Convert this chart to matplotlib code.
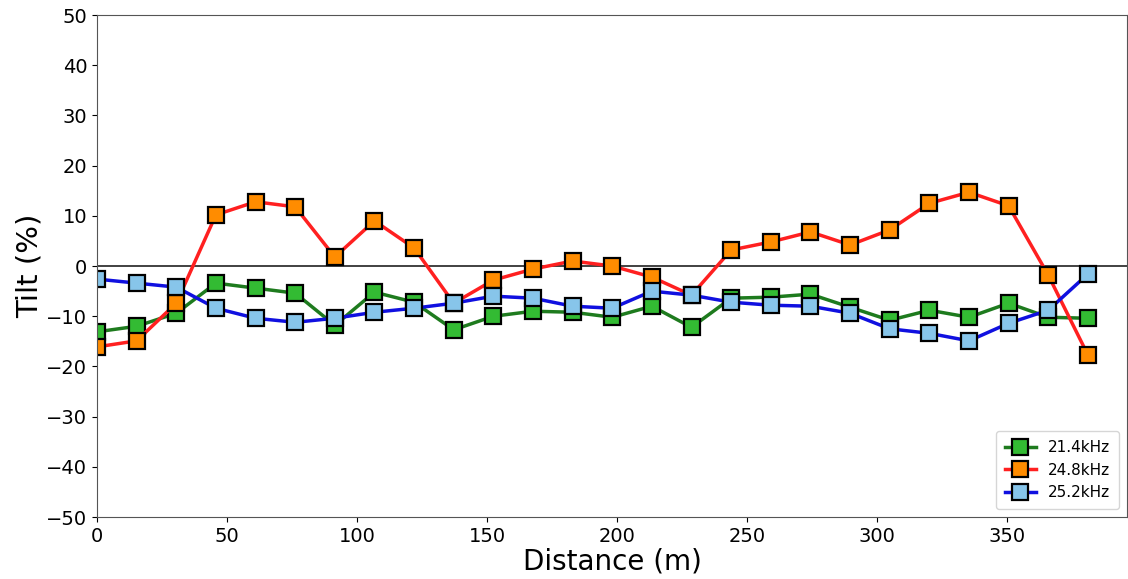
import numpy as np
import matplotlib
matplotlib.use("Agg")
import matplotlib.pyplot as plt

spacing_m = 15.24
n_points = 26
distance = [i * spacing_m for i in range(n_points)]

labels = ["21.4kHz", "24.8kHz", "25.2kHz"]

tilt_214 = [-13.1, -12.0, -9.4, -3.4, -4.4, -5.4, -11.8, -5.2, -7.2, -12.7,
            -10.0, -9.0, -9.2, -10.2, -8.0, -12.2, -6.4, -6.2, -5.6, -8.2,
            -10.8, -8.8, -10.2, -7.4, -10.2, -10.4]
tilt_248 = [-16.1, -14.9, -7.4, 10.2, 12.8, 11.8, 1.8, 9.0, 3.6, -7.4,
            -2.8, -0.6, 1.0, 0.0, -2.2, -5.8, 3.2, 4.8, 6.8, 4.2,
            7.2, 12.5, 14.7, 12.0, -1.8, -17.7]
tilt_252 = [-2.6, -3.4, -4.2, -8.4, -10.4, -11.2, -10.4, -9.2, -8.4, -7.4,
            -6.0, -6.4, -8.0, -8.4, -5.0, -5.8, -7.2, -7.8, -8.0, -9.4,
            -12.5, -13.4, -14.9, -11.4, -8.8, -1.6]

xticks = [0, 50, 100, 150, 200, 250, 300, 350]
yticks = [-50, -40, -30, -20, -10, 0, 10, 20, 30, 40, 50]

fig = plt.figure(figsize=(11.28, 5.79), dpi=100)
ax = fig.add_axes([0.086, 0.107, 0.913, 0.867])

styles = [
    (tilt_214, "#1e7b1e", "#33bb33"),
    (tilt_248, "#ff2020", "#ff8c00"),
    (tilt_252, "#1010e0", "#87c5ea"),
]
for (vals, lc, fc), lab in zip(styles, labels):
    ax.plot(distance, vals, color=lc, lw=2.5, marker="s", markersize=11,
            markerfacecolor=fc, markeredgecolor="black", markeredgewidth=1.6,
            label=lab)

ax.axhline(0, color="#333333", lw=1.3, zorder=1)

ax.set_xlim(0, 396)
ax.set_ylim(-50, 50)
ax.set_xticks(xticks)
ax.set_yticks(yticks)
ax.tick_params(labelsize=14)
ax.set_xlabel("Distance (m)", fontsize=20, labelpad=1)
ax.set_ylabel("Tilt (%)", fontsize=21, labelpad=2)
for s in ax.spines.values():
    s.set_color("#555555")

ax.legend(loc="lower right", fontsize=11, handlelength=2.0, borderpad=0.6,
          labelspacing=0.5)

fig.savefig("out.png", dpi=100)
